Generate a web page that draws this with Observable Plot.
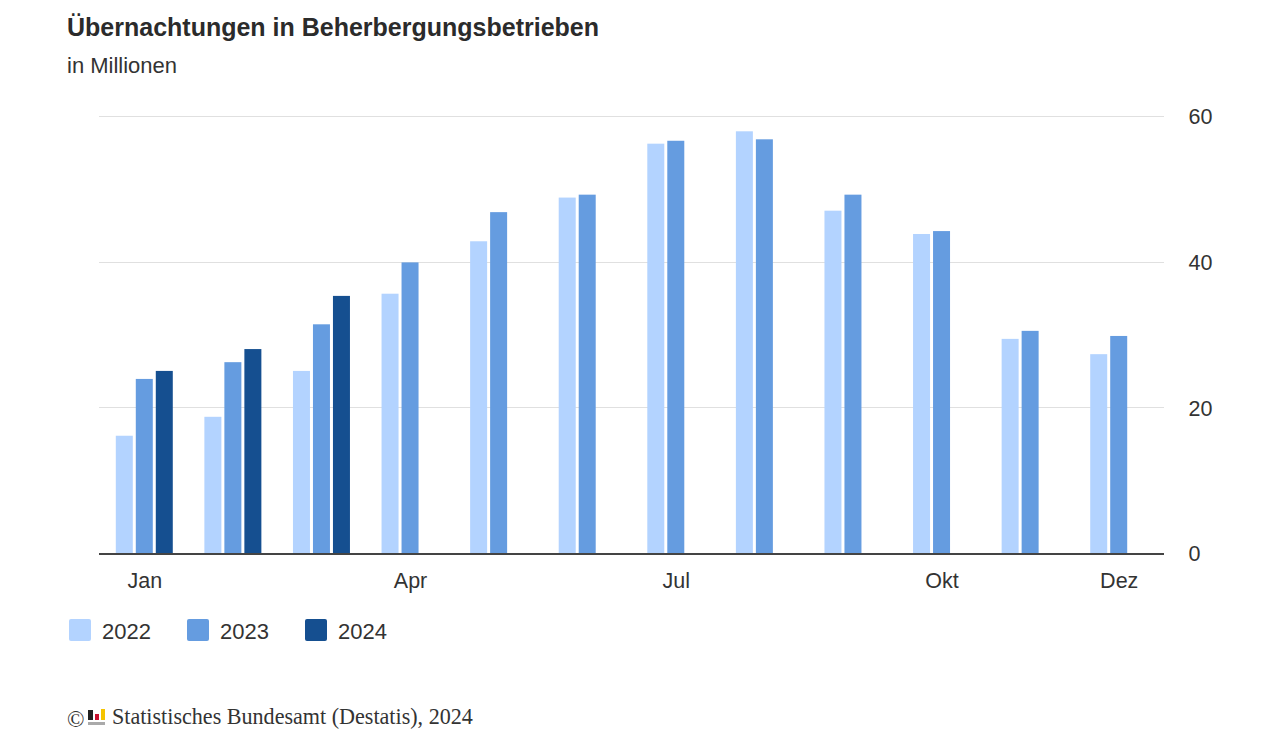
<!DOCTYPE html>
<html lang="de">
<head>
<meta charset="utf-8">
<script src="https://cdn.jsdelivr.net/npm/d3@7"></script>
<script src="https://cdn.jsdelivr.net/npm/@observablehq/plot@0.6"></script>
<style>
html,body{margin:0;padding:0;background:#fff;width:1280px;height:749px;overflow:hidden;font-family:"Liberation Sans",Arial,sans-serif;color:#333}
#wrap{position:relative;width:1280px;height:749px}
h1{position:absolute;left:67px;top:12px;margin:0;font-size:25px;line-height:30px;font-weight:700;color:#2b2b2b;white-space:nowrap}
#sub{position:absolute;left:67px;top:53px;font-size:22px;line-height:26px;color:#333}
#chart{position:absolute;left:0;top:90px}
#legend{position:absolute;left:0;top:0}
.sw{position:absolute;top:619px;width:22px;height:22px;border-radius:2px}
.lb{position:absolute;top:619px;font-size:22px;line-height:26px;color:#333}
#foot{position:absolute;left:67px;top:704px;font-family:"Liberation Serif",serif;font-size:22.1px;line-height:26px;color:#333;white-space:nowrap}
#foot svg{position:absolute;left:21px;top:5px}
#foot .c{position:absolute;left:0;top:3px;font-size:23px}
#foot .t{position:absolute;left:45px;top:0}
</style>
</head>
<body>
<div id="wrap">
<h1>Übernachtungen in Beherbergungsbetrieben</h1>
<div id="sub">in Millionen</div>
<div id="chart"></div>
<div id="legend"></div>
<div id="foot"><span class="c">©</span>
<svg width="18" height="18" viewBox="0 0 18 18"><rect x="0" y="1" width="5" height="10" fill="#222"/><rect x="7" y="5" width="4" height="6" fill="#c8102e"/><rect x="13" y="0" width="4" height="11" fill="#f5c400"/><rect x="0" y="13" width="17" height="3" fill="#aaa"/></svg>
<span class="t">Statistisches Bundesamt (Destatis), 2024</span></div>
</div>
<script>
const months = ["Jan","Feb","Mär","Apr","Mai","Jun","Jul","Aug","Sep","Okt","Nov","Dez"];
const tickMonths = ["Jan","Apr","Jul","Okt","Dez"];
const years = ["2022","2023","2024"];
const colors = ["#b3d3ff","#659ce0","#154f90"];
const values2022 = [16.1,18.7,25.0,35.6,42.8,48.8,56.2,57.9,47.0,43.8,29.4,27.3];
const values2023 = [23.9,26.2,31.4,39.9,46.8,49.2,56.6,56.8,49.2,44.2,30.5,29.8];
const values2024 = [25.0,28.0,35.3];
const yTicks = [0,20,40,60];
const legendX = [69,187,305];

const rows = [];
[values2022,values2023,values2024].forEach((vals,i)=>{
  vals.forEach((v,j)=>rows.push({month:months[j],year:years[i],value:v}));
});

const plot = Plot.plot({
  width:1280,
  height:520,
  marginLeft:100,
  marginRight:117,
  marginTop:26,
  marginBottom:57,
  style:{background:"transparent",fontFamily:"'Liberation Sans',Arial,sans-serif",fontSize:"21.5px",color:"#333"},
  fx:{domain:months,padding:0,round:false,label:null,axis:null},
  x:{domain:years,paddingInner:0.15,paddingOuter:0.79,align:0.5,round:false,axis:null},
  y:{domain:[0,60],label:null,axis:null},
  color:{domain:years,range:colors},
  marks:[
    Plot.ruleY(yTicks.filter(d=>d>0),{stroke:"#e0e0e0",strokeWidth:1,strokeOpacity:1,insetLeft:-1,insetRight:-1,shapeRendering:"crispEdges"}),
    Plot.barY(rows,{fx:"month",x:"year",y:"value",fill:"year",inset:0}),
    Plot.ruleY([0],{stroke:"#444",strokeWidth:2,insetLeft:-1,insetRight:-1,shapeRendering:"crispEdges"}),
    Plot.axisY({anchor:"right",ticks:yTicks,tickSize:0,tickPadding:25,dy:1,label:null,fontSize:21.5,tickFormat:d=>String(d)}),
    Plot.axisFx({anchor:"bottom",ticks:tickMonths,tickSize:0,tickPadding:19,label:null,fontSize:21.5})
  ]
});
document.getElementById("chart").appendChild(plot);

const lg = document.getElementById("legend");
years.forEach((y,i)=>{
  const s=document.createElement("div");s.className="sw";s.style.left=legendX[i]+"px";s.style.background=colors[i];lg.appendChild(s);
  const t=document.createElement("div");t.className="lb";t.style.left=(legendX[i]+33)+"px";t.textContent=y;lg.appendChild(t);
});
</script>
</body>
</html>
